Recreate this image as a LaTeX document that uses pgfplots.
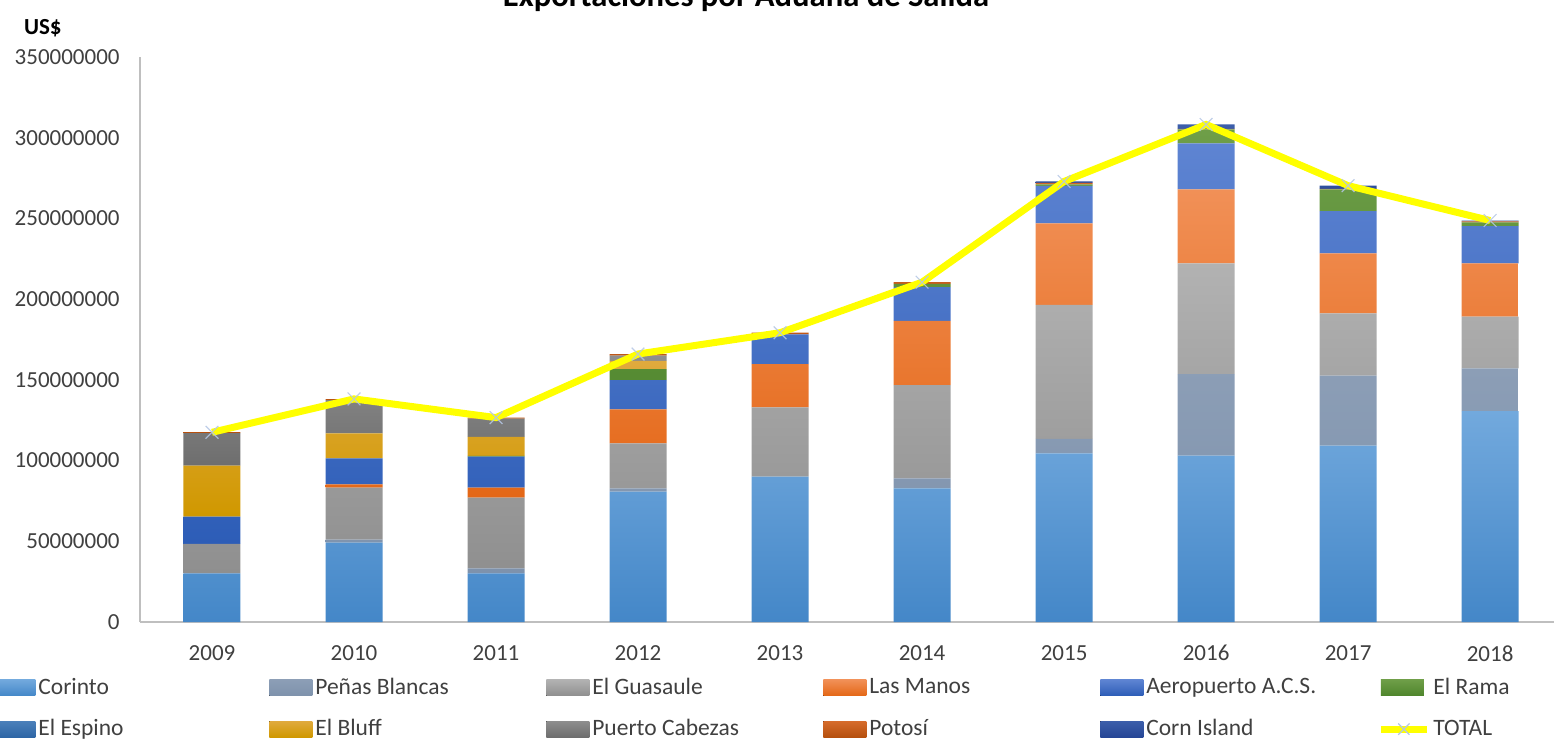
\documentclass[border=0pt]{standalone}
\usepackage{pgfplots}
\pgfplotsset{compat=1.18}
\usepackage{pgfplotstable}
\usepackage{fontspec}
\setmainfont{Carlito}
\definecolor{txt}{HTML}{404040}
\definecolor{axgray}{HTML}{BFBFBF}
\definecolor{corT}{HTML}{72A9DD}\definecolor{corB}{HTML}{4487C8}
\definecolor{penT}{HTML}{8C9EB6}\definecolor{penB}{HTML}{7E92AC}
\definecolor{guaT}{HTML}{B2B2B2}\definecolor{guaB}{HTML}{8F8F8F}
\definecolor{manT}{HTML}{F19057}\definecolor{manB}{HTML}{E46716}
\definecolor{aerT}{HTML}{5E84D2}\definecolor{aerB}{HTML}{2D5DB7}
\definecolor{ramT}{HTML}{6E9E48}\definecolor{ramB}{HTML}{4E852C}
\definecolor{espT}{HTML}{4B80BA}\definecolor{espB}{HTML}{2E66A5}
\definecolor{bluT}{HTML}{E0AA3E}\definecolor{bluB}{HTML}{D09800}
\definecolor{cabT}{HTML}{8E8E8E}\definecolor{cabB}{HTML}{6E6E6E}
\definecolor{potT}{HTML}{D66C2C}\definecolor{potB}{HTML}{B6500E}
\definecolor{corinT}{HTML}{3C5EAA}\definecolor{corinB}{HTML}{264696}
\definecolor{totyellow}{HTML}{FFFF00}
\definecolor{markblue}{HTML}{B4C6E4}
\pgfplotstableread{
x Corinto Penas Guasaule Manos Aero Rama Espino Bluff Cabezas Potosi Corn Total
0 30200000 0 18200000 0 16900000 0 0 31600000 20100000 600000 0 117500000
1 49100000 2000000 32200000 2000000 16100000 0 0 15500000 20500000 600000 0 138200000
2 30200000 3000000 43800000 6200000 19200000 500000 0 11800000 11300000 600000 0 126600000
3 80700000 2000000 27900000 21100000 18200000 6800000 0 5000000 3300000 1000000 0 166000000
4 90000000 0 43000000 26800000 18400000 0 0 0 0 1000000 0 179200000
5 82800000 6200000 57800000 39700000 21000000 2000000 0 0 0 1000000 0 210500000
6 104500000 8900000 83000000 50600000 23100000 1000000 0 0 0 1000000 800000 272900000
7 103000000 50600000 68600000 45800000 28500000 8700000 0 0 0 300000 2700000 308200000
8 109200000 43400000 38600000 37200000 26200000 13400000 0 0 0 300000 2000000 270300000
9 130700000 26400000 32000000 33000000 23100000 2300000 0 0 0 600000 600000 248700000
}\datatable
\pgfplotsset{
  sw/.style={legend image code/.code={\fill[##1] (0bp,-4bp) rectangle (21.5bp,4bp);}},
  totleg/.style={legend image code/.code={\draw[mark repeat=2,mark phase=2,##1,sharp plot] plot coordinates {(0bp,0bp) (11.5bp,0bp) (23bp,0bp)};}},
}
\newcommand{\LE}[1]{\makebox[115.5bp][l]{\rule[-3.5bp]{0pt}{11bp}#1}}
\begin{document}
\begin{tikzpicture}
\begin{axis}[
  at={(0,0)}, anchor=south west,
  scale only axis, width=707bp, height=282.5bp,
  xmin=-0.507, xmax=9.45, ymin=0, ymax=350000000,
  ybar stacked, bar width=28.5bp,
  scaled y ticks=false,
  axis x line*=bottom, axis y line*=left,
  axis line style={draw=axgray, line width=0.8bp, -},
  major tick length=0pt,
  xtick={0,1,2,3,4,5,6,7,8,9},
  xticklabels={2009,2010,2011,2012,2013,2014,2015,2016,2017,2018},
  ytick={0,50000000,100000000,150000000,200000000,250000000,300000000,350000000},
  yticklabels={0,50000000,100000000,150000000,200000000,250000000,300000000,350000000},
  tick label style={font=\fontsize{11.5bp}{13.8bp}\selectfont, text=txt, inner sep=0pt},
  yticklabel style={anchor=east, xshift=-10bp},
  xticklabel style={anchor=north, yshift=-11.5bp},
  legend columns=6,
  legend style={draw=none, fill=none, inner sep=0pt,
    at={(axis description cs:-0.1047,-0.0986)}, anchor=north west,
    font=\fontsize{11.75bp}{14bp}\selectfont, text=txt,
    nodes={inner sep=0pt},
    /tikz/every odd column/.style={column sep=1.5bp},
    /tikz/every even column/.style={column sep=0pt},
    row sep=11bp},
  legend cell align=left,
]
\addplot[draw=none, top color=corT, bottom color=corB, sw] table[x=x,y=Corinto]{\datatable};
\addlegendentry{\LE{Corinto}}
\addplot[draw=none, top color=penT, bottom color=penB, sw] table[x=x,y=Penas]{\datatable};
\addlegendentry{\LE{Peñas Blancas}}
\addplot[draw=none, top color=guaT, bottom color=guaB, sw] table[x=x,y=Guasaule]{\datatable};
\addlegendentry{\LE{El Guasaule}}
\addplot[draw=none, top color=manT, bottom color=manB, sw] table[x=x,y=Manos]{\datatable};
\addlegendentry{\LE{Las Manos}}
\addplot[draw=none, top color=aerT, bottom color=aerB, sw] table[x=x,y=Aero]{\datatable};
\addlegendentry{\LE{Aeropuerto A.C.S.}}
\addplot[draw=none, top color=ramT, bottom color=ramB, sw] table[x=x,y=Rama]{\datatable};
\addlegendentry{\LE{El Rama}}
\addplot[draw=none, top color=espT, bottom color=espB, sw] table[x=x,y=Espino]{\datatable};
\addlegendentry{\LE{El Espino}}
\addplot[draw=none, top color=bluT, bottom color=bluB, sw] table[x=x,y=Bluff]{\datatable};
\addlegendentry{\LE{El Bluff}}
\addplot[draw=none, top color=cabT, bottom color=cabB, sw] table[x=x,y=Cabezas]{\datatable};
\addlegendentry{\LE{Puerto Cabezas}}
\addplot[draw=none, top color=potT, bottom color=potB, sw] table[x=x,y=Potosi]{\datatable};
\addlegendentry{\LE{Potosí}}
\addplot[draw=none, top color=corinT, bottom color=corinB, sw] table[x=x,y=Corn]{\datatable};
\addlegendentry{\LE{Corn Island}}
\addlegendimage{totleg, draw=totyellow, line width=3.5bp, mark=x, mark size=4bp, mark options={draw=markblue, line width=0.6bp}}
\addlegendentry{\LE{TOTAL}}
\end{axis}
\begin{axis}[
  at={(0,0)}, anchor=south west,
  scale only axis, width=707bp, height=282.5bp,
  xmin=-0.507, xmax=9.45, ymin=0, ymax=350000000,
  hide axis, clip=false]
\addplot[draw=totyellow, line width=3.5bp, mark=x, mark size=4.5bp, mark options={draw=markblue, line width=0.6bp, opacity=0.85}] table[x=x,y=Total]{\datatable};
\end{axis}
\node[anchor=west, font=\bfseries\fontsize{11.5bp}{13bp}\selectfont, text=black] at (-61.5bp,297bp) {US\$};
\node[anchor=base, font=\bfseries\fontsize{16.3bp}{19bp}\selectfont, text=black] at (303bp,307.5bp) {Exportaciones por Aduana de Salida};
\pgfresetboundingbox
\useasboundingbox (-70bp,-61bp) rectangle (707bp,311bp);
\end{tikzpicture}
\end{document}
